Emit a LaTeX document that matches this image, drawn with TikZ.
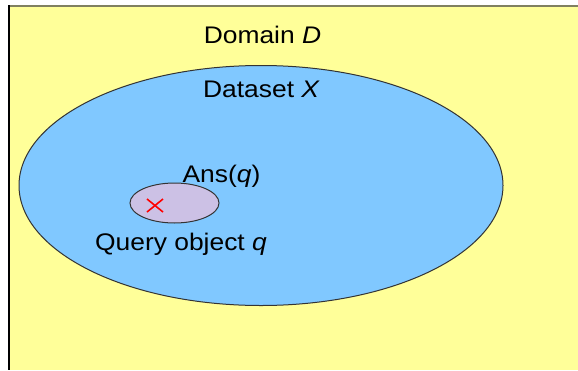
\documentclass[tikz,border=0pt]{standalone}
\usepackage{fontspec}
\setmainfont{Liberation Sans}
\usetikzlibrary{shapes.geometric}
\definecolor{domainyellow}{HTML}{FFFF99}
\definecolor{setblue}{HTML}{80C8FF}
\definecolor{anslav}{HTML}{CCC1E5}
\definecolor{edgegray}{HTML}{333333}
\definecolor{topgray}{HTML}{808060}
\newcommand\wideText[1]{\scalebox{1.1}[1]{#1}}
\tikzset{
  lbl/.style={anchor=base, inner sep=0pt, font=\fontsize{24}{29}\selectfont},
  region/.style={ellipse, draw=edgegray, line width=1pt, inner sep=0pt},
  xmark/.style={draw=red, line width=1.6pt}
}
\begin{document}
\begin{tikzpicture}[x=1pt,y=-1pt]
\useasboundingbox (0,0) rectangle (578,370);
\fill[white] (0,0) rectangle (578,370);
\fill[domainyellow] (8,5) rectangle (578,370);
\draw[topgray, line width=2pt] (8,6) -- (578,6);
\draw[black, line width=2pt] (9,5) -- (9,370);
\node[region, fill=setblue, minimum width=484pt, minimum height=240pt] (dataset) at (261,185.5) {};
\node[region, fill=anslav, minimum width=89pt, minimum height=40pt] (ans) at (174.5,203) {};
\coordinate (xa) at (147,199);
\coordinate (xb) at (163,212);
\coordinate (xc) at (147,212);
\coordinate (xd) at (163,199);
\draw[xmark] (xa) -- (xb);
\draw[xmark] (xc) -- (xd);
\node[lbl] (domainlbl) at (262.5,43) {\wideText{Domain \textit{D}}};
\node[lbl] (datasetlbl) at (261.5,97) {\wideText{Dataset \textit{X}}};
\node[lbl] (anslbl) at (221.5,182) {\wideText{Ans(\textit{q})}};
\node[lbl] (querylbl) at (181,250) {\wideText{Query object \textit{q}}};
\end{tikzpicture}
\end{document}
